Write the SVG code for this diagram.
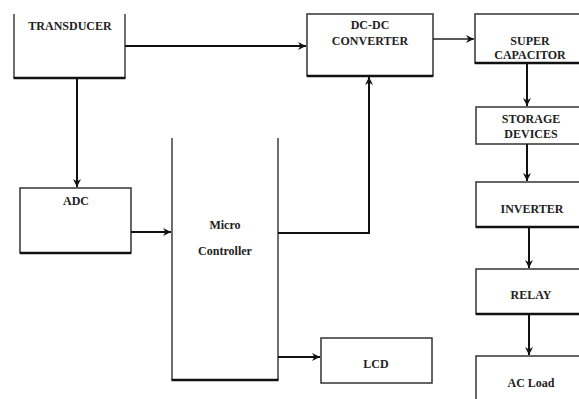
<svg xmlns="http://www.w3.org/2000/svg" width="579" height="399" viewBox="0 0 579 399">
<style>
.box{fill:#fff;stroke:#333;stroke-width:1.5}
.base{stroke:#111;stroke-width:2.5;fill:none}
.t{font-family:"Liberation Serif","DejaVu Serif",serif;font-weight:bold;font-size:12px;fill:#222;text-anchor:middle}
.c{fill:none;stroke:#111;stroke-width:2}
.thin{fill:none;stroke:#222;stroke-width:1.3}
</style>
<defs>
<marker id="ah" markerUnits="userSpaceOnUse" markerWidth="9" markerHeight="9" refX="8" refY="4.5" orient="auto">
<path d="M0,0.5 L8,4.5 L0,8.5 L2.5,4.5 z" fill="#111"/>
</marker>
</defs>
<rect width="579" height="399" fill="#fff"/>
<g id="transducer">
<path class="thin" d="M14,14 V78 M125,14 V78"/>
<path class="base" d="M13.5,78 H125.5"/>
<text class="t" x="70" y="30">TRANSDUCER</text>
</g>
<g id="dcdc">
<rect class="box" x="307" y="14" width="126" height="62"/>
<path class="base" d="M307,76 H433"/>
<text class="t" x="370" y="29">DC-DC</text>
<text class="t" x="370" y="45">CONVERTER</text>
</g>
<g id="supercap">
<rect class="box" x="475" y="14" width="120" height="49"/>
<path class="base" d="M475,63 H579"/>
<text class="t" x="530" y="45">SUPER</text>
<text class="t" x="530" y="59">CAPACITOR</text>
</g>
<g id="storage">
<rect class="box" x="476" y="107" width="120" height="37"/>
<text class="t" x="531" y="123">STORAGE</text>
<text class="t" x="531" y="138">DEVICES</text>
</g>
<g id="inverter">
<rect class="box" x="476" y="182" width="120" height="45"/>
<path class="base" d="M476,227 H579"/>
<text class="t" x="532" y="213">INVERTER</text>
</g>
<g id="relay">
<rect class="box" x="476" y="269" width="120" height="45"/>
<path class="base" d="M476,314 H579"/>
<text class="t" x="531" y="299">RELAY</text>
</g>
<g id="acload">
<rect class="box" x="476" y="356" width="120" height="60"/>
<text class="t" x="531" y="387">AC Load</text>
</g>
<g id="adc">
<rect class="box" x="20" y="188" width="111" height="65"/>
<path class="base" d="M20,253 H131"/>
<text class="t" x="76" y="205">ADC</text>
</g>
<g id="micro">
<path class="thin" d="M172,138 V380 M278,138 V380"/>
<path class="base" d="M171.5,380 H278.5"/>
<text class="t" x="225" y="229">Micro</text>
<text class="t" x="225" y="255">Controller</text>
</g>
<g id="lcd">
<rect class="box" x="321" y="338" width="111" height="45"/>
<text class="t" x="376" y="368">LCD</text>
</g>
<g id="connectors">
<path class="c" d="M125,46 H306" marker-end="url(#ah)"/>
<path class="thin" d="M433,39 H474" marker-end="url(#ah)"/>
<path class="c" d="M77,78 V187" marker-end="url(#ah)"/>
<path class="c" d="M131,232 H171" marker-end="url(#ah)"/>
<path class="c" d="M278,233 H369 V77" marker-end="url(#ah)"/>
<path class="c" d="M278,357 H320" marker-end="url(#ah)"/>
<path class="c" d="M527,63 V106" marker-end="url(#ah)"/>
<path class="c" d="M527,144 V181" marker-end="url(#ah)"/>
<path class="c" d="M529,227 V268" marker-end="url(#ah)"/>
<path class="c" d="M529,314 V355" marker-end="url(#ah)"/>
</g>
</svg>
